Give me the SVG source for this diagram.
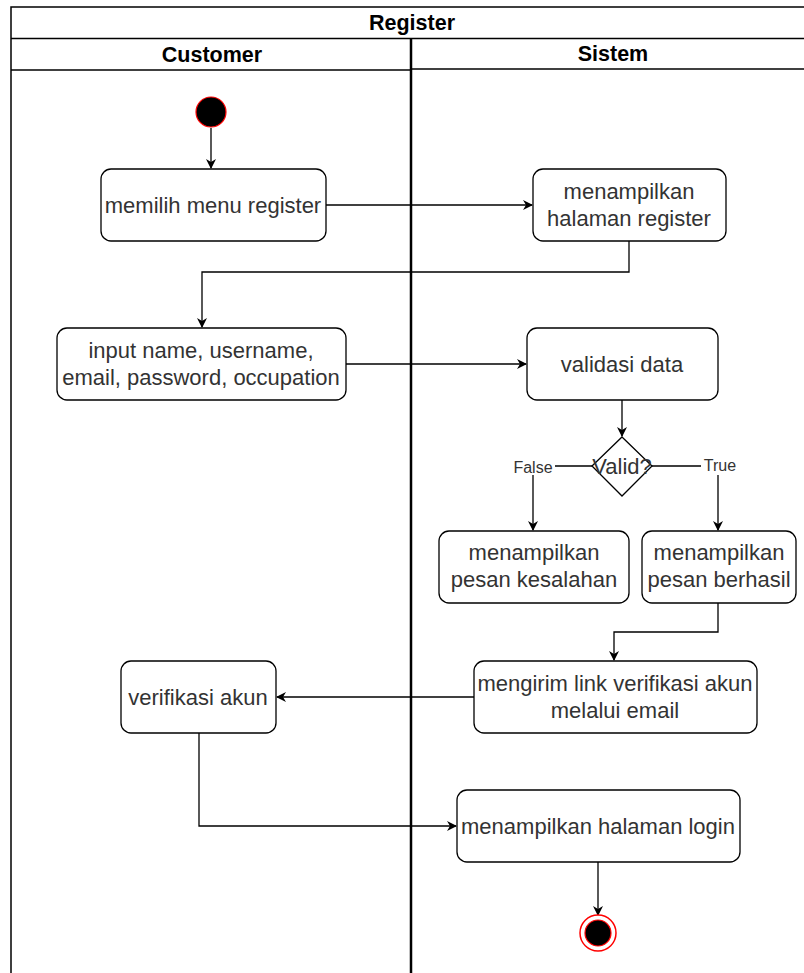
<svg xmlns="http://www.w3.org/2000/svg" width="804" height="973" viewBox="0 0 804 973">
  <defs>
    <marker id="arrow" viewBox="0 0 10 10" refX="9" refY="5" markerWidth="10" markerHeight="10" markerUnits="userSpaceOnUse" orient="auto">
      <path d="M0,0 L10,5 L0,10 L3,5 Z" fill="#000"/>
    </marker>
  </defs>
  <style>
    .lane { fill: none; stroke: #000; stroke-width: 1.5; }
    .divider { stroke: #000; stroke-width: 2.5; }
    .hdr { font-family: "Liberation Sans", Arial, sans-serif; font-weight: bold; font-size: 21.5px; fill: #000; text-anchor: middle; }
    .act rect { fill: #fff; stroke: #000; stroke-width: 1.3; }
    .act text, .dec text { font-family: "Liberation Sans", Arial, sans-serif; font-size: 22px; fill: #333; text-anchor: middle; }
    .edge { fill: none; stroke: #000; stroke-width: 1.3; }
    .arr { marker-end: url(#arrow); }
    .lbl { font-family: "Liberation Sans", Arial, sans-serif; font-size: 16px; fill: #333; text-anchor: middle; }
  </style>
  <rect width="804" height="973" fill="#fff"/>

  <!-- swimlane frame -->
  <g id="pool">
    <path class="lane" d="M11,973 V7 H804"/>
    <line class="lane" x1="11" y1="38.5" x2="804" y2="38.5"/>
    <line class="lane" x1="11" y1="70" x2="411" y2="70"/>
    <line class="lane" x1="411" y1="69" x2="804" y2="69"/>
    <line class="divider" x1="411" y1="38.5" x2="411" y2="973"/>
    <text class="hdr" x="412" y="30">Register</text>
    <text class="hdr" x="212" y="62">Customer</text>
    <text class="hdr" x="613" y="61">Sistem</text>
  </g>

  <!-- connectors -->
  <g id="edges">
    <path class="edge arr" d="M211,128 V168"/>
    <path class="edge arr" d="M326,205 H532"/>
    <path class="edge arr" d="M629,241 V272 H202 V327"/>
    <path class="edge arr" d="M346,364 H526"/>
    <path class="edge arr" d="M622,400 V436"/>
    <path class="edge arr" d="M592,466 H533 V530"/>
    <path class="edge arr" d="M652,466 H718 V530"/>
    <path class="edge arr" d="M718,603 V632 H614 V660"/>
    <path class="edge arr" d="M474,697 H277"/>
    <path class="edge arr" d="M199,733 V826 H456"/>
    <path class="edge arr" d="M598,862 V915"/>
    <rect x="512" y="457" width="43" height="18" fill="#fff"/>
    <text class="lbl" x="533" y="473">False</text>
    <rect x="701" y="457" width="38" height="18" fill="#fff"/>
    <text class="lbl" x="720" y="471">True</text>
  </g>

  <!-- nodes -->
  <g id="start">
    <circle cx="211" cy="112" r="15" fill="#000" stroke="#f00" stroke-width="1.2"/>
  </g>
  <g id="pilihMenu" class="act">
    <rect x="101" y="169" width="225" height="72" rx="10"/>
    <text x="213" y="213">memilih menu register</text>
  </g>
  <g id="halamanRegister" class="act">
    <rect x="533" y="169" width="193" height="72" rx="10"/>
    <text x="629" y="199">menampilkan</text>
    <text x="629" y="226">halaman register</text>
  </g>
  <g id="inputData" class="act">
    <rect x="57" y="328" width="289" height="72" rx="10"/>
    <text x="201" y="358">input name, username,</text>
    <text x="201" y="385">email, password, occupation</text>
  </g>
  <g id="validasi" class="act">
    <rect x="527" y="328" width="191" height="72" rx="10"/>
    <text x="622" y="372">validasi data</text>
  </g>
  <g id="valid" class="dec">
    <polygon points="622,437 652,466 622,496 592,466" fill="#fff" stroke="#000" stroke-width="1.3"/>
    <text x="622" y="474">Valid?</text>
  </g>
  <g id="pesanSalah" class="act">
    <rect x="439" y="531" width="190" height="72" rx="10"/>
    <text x="534" y="560">menampilkan</text>
    <text x="534" y="587">pesan kesalahan</text>
  </g>
  <g id="pesanBerhasil" class="act">
    <rect x="642" y="531" width="154" height="72" rx="10"/>
    <text x="719" y="560">menampilkan</text>
    <text x="719" y="587">pesan berhasil</text>
  </g>
  <g id="kirimLink" class="act">
    <rect x="474" y="661" width="283" height="72" rx="10"/>
    <text x="615" y="691">mengirim link verifikasi akun</text>
    <text x="615" y="718">melalui email</text>
  </g>
  <g id="verifikasi" class="act">
    <rect x="121" y="661" width="155" height="72" rx="10"/>
    <text x="198" y="705">verifikasi akun</text>
  </g>
  <g id="halamanLogin" class="act">
    <rect x="457" y="790" width="283" height="72" rx="10"/>
    <text x="598" y="834">menampilkan halaman login</text>
  </g>
  <g id="end">
    <circle cx="598" cy="933" r="18" fill="#fff" stroke="#f00" stroke-width="1.5"/>
    <circle cx="598" cy="933" r="13" fill="#000" stroke="#f00" stroke-width="1.2"/>
  </g>
</svg>
